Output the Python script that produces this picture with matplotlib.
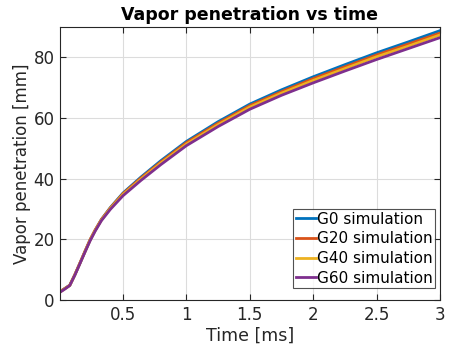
import matplotlib
matplotlib.use("Agg")
import matplotlib.pyplot as plt

time_ms = [0, 0.04, 0.08, 0.12, 0.16, 0.2, 0.24, 0.28, 0.33, 0.4, 0.5, 0.64, 0.8, 1.0, 1.25, 1.5, 1.75, 2.0, 2.25, 2.5, 2.75, 3.0]
g0 = [2.7, 3.8, 4.9, 8.3, 12.1, 16.0, 19.8, 23.0, 26.6, 30.5, 35.3, 40.5, 46.0, 52.3, 58.8, 64.6, 69.3, 73.6, 77.6, 81.5, 85.1, 88.8]
g20 = [2.7, 3.8, 4.9, 8.4, 12.2, 16.1, 19.9, 23.1, 26.6, 30.4, 35.1, 40.2, 45.6, 51.9, 58.3, 64.1, 68.7, 73.0, 76.9, 80.8, 84.4, 88.0]
g40 = [2.6, 3.7, 4.8, 8.3, 12.1, 15.9, 19.7, 22.9, 26.4, 30.2, 34.8, 39.8, 45.2, 51.4, 57.8, 63.6, 68.2, 72.4, 76.3, 80.2, 83.7, 87.4]
g60 = [2.5, 3.6, 4.8, 8.2, 12.0, 15.8, 19.5, 22.7, 26.2, 29.9, 34.4, 39.4, 44.7, 50.9, 57.2, 62.9, 67.5, 71.6, 75.5, 79.3, 82.9, 86.5]
labels = ["G0 simulation", "G20 simulation", "G40 simulation", "G60 simulation"]
colors = ["#0072BD", "#D95319", "#EDB120", "#7E2F8E"]
xticks = [0.5, 1, 1.5, 2, 2.5, 3]
xticklabels = ["0.5", "1", "1.5", "2", "2.5", "3"]
yticks = [0, 20, 40, 60, 80]

plt.rcParams['font.family'] = ['DejaVu Sans']
fig = plt.figure(figsize=(4.51, 3.51), dpi=100)
ax = fig.add_axes([0.133, 0.145, 0.8426, 0.778])
for ys, lab, c in zip([g0, g20, g40, g60], labels, colors):
    ax.plot(time_ms, ys, color=c, lw=2.0, label=lab)

ax.set_xlim(0.003, 3)
ax.set_ylim(0, 90)
ax.set_xticks(xticks)
ax.set_xticklabels(xticklabels)
ax.set_yticks(yticks)
ax.grid(True, color="#dcdcdc", lw=0.8)
ax.set_axisbelow(True)
ax.tick_params(direction="in", top=True, right=True, labelsize=12, colors="#262626", length=4, pad=4)
for s in ax.spines.values():
    s.set_color("#262626")
    s.set_linewidth(0.8)
ax.set_xlabel("Time [ms]", fontsize=12.5, color="#262626", labelpad=2)
ax.set_ylabel("Vapor penetration [mm]", fontsize=12, color="#262626", labelpad=2)
ax.set_title("Vapor penetration vs time", fontsize=12.5, fontweight="bold", pad=5)
leg = ax.legend(loc="lower right", fontsize=11, frameon=True, fancybox=False,
                edgecolor="#262626", handlelength=1.3, handletextpad=0.08,
                borderpad=0.16, labelspacing=0.3, borderaxespad=0,
                bbox_to_anchor=(435 / 451, 1 - 288 / 351), bbox_transform=fig.transFigure)
leg.get_frame().set_linewidth(0.8)
fig.savefig("out.png", dpi=100)
